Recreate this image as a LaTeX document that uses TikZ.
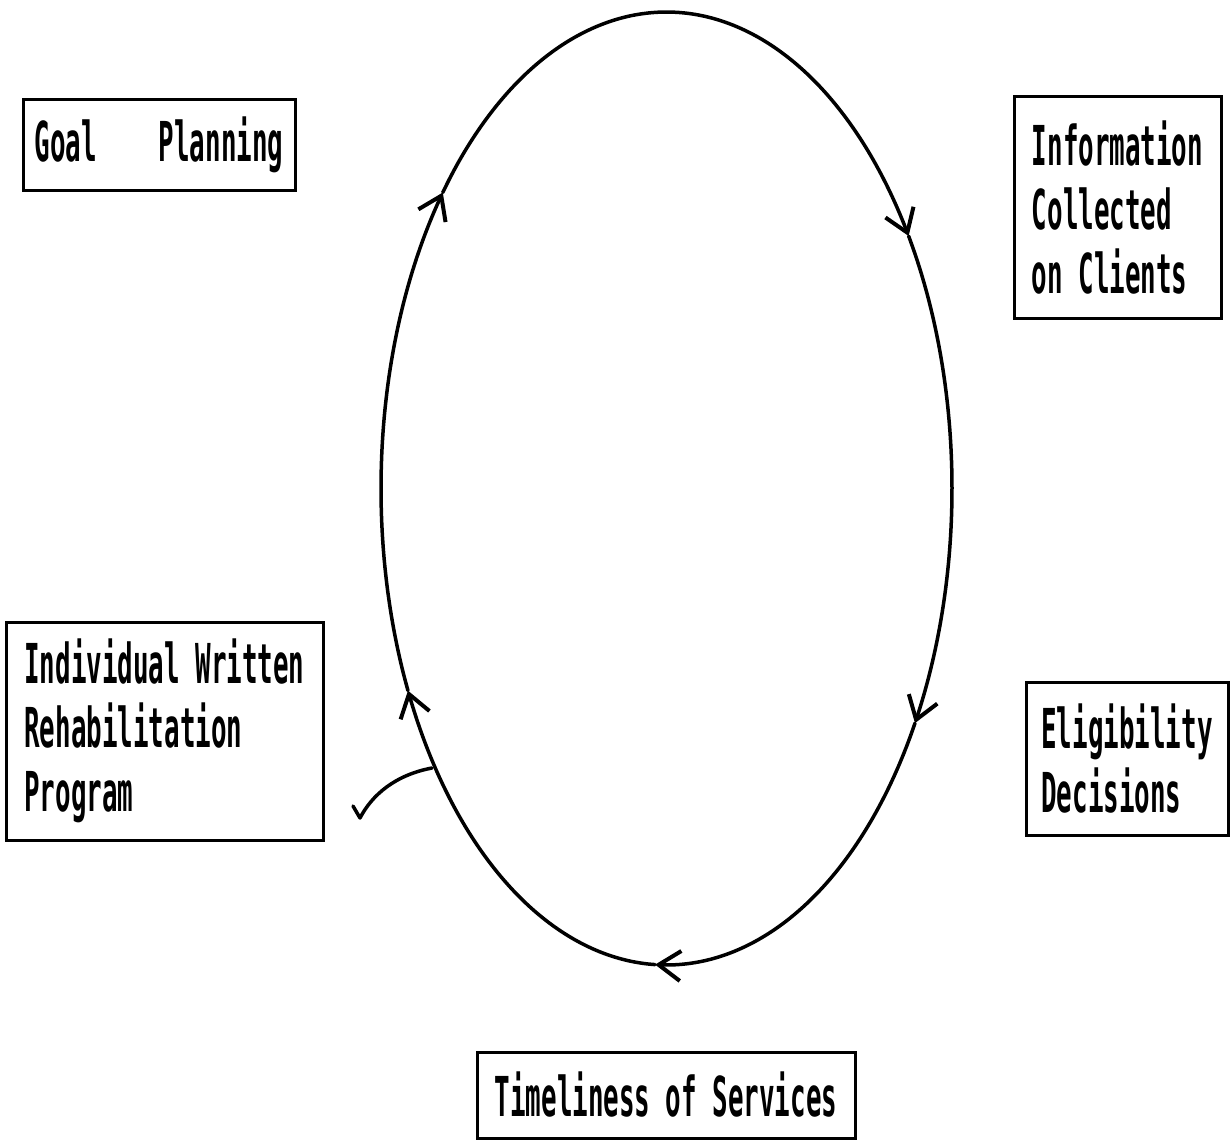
\documentclass[tikz,border=0pt]{standalone}
\usepackage{fontspec}
\newfontfamily\plotfont{DejaVu Sans Mono}[FakeStretch=0.47]
\usetikzlibrary{arrows.meta}
\begin{document}
\begin{tikzpicture}[x=1pt,y=-1pt,
  box/.style={draw, line width=3pt, rectangle, inner sep=0pt, align=left,
    font=\plotfont\bfseries\fontsize{55}{64}\selectfont},
  cyc/.style={line width=3.5pt, line cap=round,
    -{Straight Barb[length=22pt,width=30pt,line width=4pt]}},
  hook/.style={line width=3.5pt, line cap=round, line join=round}
]
\useasboundingbox (0,0) rectangle (1230,1142);
\fill[white] (0,0) rectangle (1230,1142);

% boxes
\node[box, minimum width=272pt, minimum height=90pt] (goal) at (159,145)
  {Goal\hspace{62pt}Planning};
\node[box, minimum width=207pt, minimum height=221pt] (info) at (1117.5,207.5)
  {Information\\Collected\\on Clients};
\node[box, minimum width=202pt, minimum height=153pt] (elig) at (1127,758.5)
  {Eligibility\\Decisions};
\node[box, minimum width=317pt, minimum height=218pt] (iwrp) at (164.5,731)
  {Individual Written\\Rehabilitation\\Program};
\node[box, minimum width=378pt, minimum height=86pt] (time) at (666,1095)
  {Timeliness of Services};

% cycle (ellipse made of arcs, each ending with an arrow tip)
\draw[cyc] plot[domain=29.5:92.3, samples=40, smooth]
  ({666.5+285.5*cos(\x)},{488.5+476.5*sin(\x)});
\draw[cyc] plot[domain=92.3:154.9, samples=40, smooth]
  ({666.5+285.5*cos(\x)},{488.5+476.5*sin(\x)});
\draw[cyc] plot[domain=154.9:218.4, samples=40, smooth]
  ({666.5+285.5*cos(\x)},{488.5+476.5*sin(\x)});
\draw[cyc] plot[domain=218.4:328, samples=60, smooth]
  ({666.5+285.5*cos(\x)},{488.5+476.5*sin(\x)});
\draw[cyc] plot[domain=328:389.5, samples=40, smooth]
  ({666.5+285.5*cos(\x)},{488.5+476.5*sin(\x)});

% small hand-drawn hook near the left of the cycle
\coordinate (h0) at (432,768);
\coordinate (h1) at (360,818);
\coordinate (h2) at (353,806);
\draw[hook] (h0) .. controls (395,775) and (372,795) .. (h1) -- (h2);
\end{tikzpicture}
\end{document}
